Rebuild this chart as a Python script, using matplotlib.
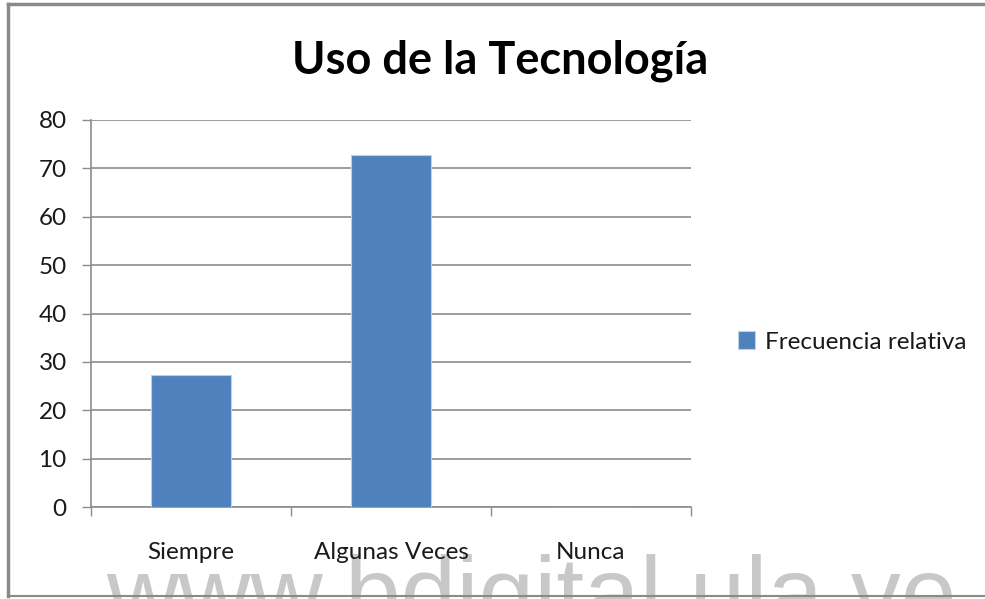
import numpy as np
import matplotlib
matplotlib.use("Agg")
import matplotlib.pyplot as plt
from matplotlib.lines import Line2D

categories = ['Siempre', 'Algunas Veces', 'Nunca']
frecuencia = [27.27, 72.73, 0.0]
yticks = [0, 10, 20, 30, 40, 50, 60, 70, 80]
title = 'Uso de la Tecnología'
serie = 'Frecuencia relativa'
watermark = 'www.bdigital.ula.ve'

plt.rcParams['font.family'] = ['Lato', 'DejaVu Sans']

W, H = 985, 599
fig = plt.figure(figsize=(W / 100, H / 100), dpi=100)
ax = fig.add_axes([91 / W, 1 - 507 / H, 600 / W, 387 / H])
ax.patch.set_visible(False)

grid_c = '#8c8c8c'
txt_c = '#1a1a1a'
lab_size = 17.5
x = np.arange(len(categories))
ax.bar(x, frecuencia, width=0.4, color='#4f81bd', edgecolor='#c0d0e6',
       linewidth=0.8, label=serie, zorder=3)

ax.set_xlim(-0.5, len(categories) - 0.5)
ax.set_ylim(0, 80)
ax.set_yticks(yticks)
ax.set_yticklabels([str(v) for v in yticks])
ax.yaxis.grid(True, color=grid_c, linewidth=1.2)
ax.set_axisbelow(True)

# categorias entre marcas de division
ax.set_xticks(np.arange(-0.5, len(categories), 1.0))
ax.set_xticklabels([])
ax.set_xticks(x, minor=True)
ax.set_xticklabels(categories, minor=True)
ax.tick_params(axis='x', which='major', direction='out', length=6.5,
               color=grid_c, width=1.0)
ax.tick_params(axis='x', which='minor', length=0, pad=25, labelsize=lab_size,
               labelcolor=txt_c)
ax.tick_params(axis='y', direction='out', length=6.5, color=grid_c,
               width=1.0, pad=11, labelsize=lab_size, labelcolor=txt_c)

for s in ['top', 'right']:
    ax.spines[s].set_visible(False)
for s in ['left', 'bottom']:
    ax.spines[s].set_color(grid_c)
    ax.spines[s].set_linewidth(1.2)

fig.text(500 / W, 1 - 61 / H, title, ha='center', va='center',
         fontsize=32.5, fontweight='bold', color='black')

ax.legend(loc='center left', bbox_to_anchor=(716 / W, 1 - 342 / H),
          bbox_transform=fig.transFigure, frameon=False, fontsize=lab_size,
          handlelength=0.7, handleheight=0.7, handletextpad=0.4,
          labelcolor=txt_c)

# borde del grafico
bc = '#8a8a8a'
fig.add_artist(Line2D([8 / W, 1.0], [1 - 4 / H, 1 - 4 / H], color=bc, lw=2.5,
                      transform=fig.transFigure))
fig.add_artist(Line2D([8 / W, 8 / W], [1 - 4 / H, 1 - 596 / H], color=bc,
                      lw=2.5, transform=fig.transFigure))
fig.add_artist(Line2D([8 / W, 1.0], [1 - 596 / H, 1 - 596 / H], color=bc,
                      lw=1.5, transform=fig.transFigure))

# marca de agua, debajo de los textos del grafico
fig.text(106 / W, 1 - 627 / H, watermark, ha='left', va='baseline',
         fontsize=72, color='#c8c8c8', family=['Liberation Sans'], zorder=-1)

fig.savefig('out.png', dpi=100)
